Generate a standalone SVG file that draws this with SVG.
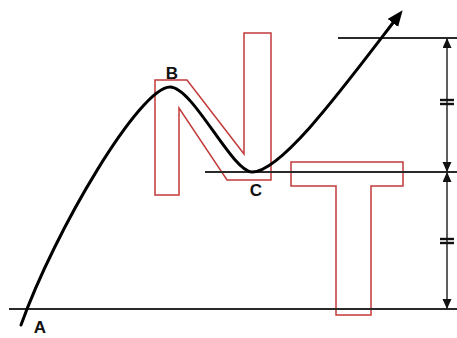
<svg xmlns="http://www.w3.org/2000/svg" width="457" height="338" viewBox="0 0 457 338">
  <style>
    .red { fill: none; stroke: #c23b3b; stroke-width: 1.5; stroke-linejoin: miter; }
    .hline { stroke: #2a2a2a; stroke-width: 1.8; fill: none; }
    .dim { stroke: #2a2a2a; stroke-width: 1.5; fill: none; }
    .eq { stroke: #111; stroke-width: 2.4; }
    .lbl { font-family: "Liberation Sans", Arial, sans-serif; font-weight: bold; font-size: 17px; fill: #111; text-anchor: middle; }
    .curve { fill: none; stroke: #000; stroke-width: 3; stroke-linecap: round; }
  </style>
  <defs>
    <marker id="bigArrow" markerUnits="userSpaceOnUse" markerWidth="17" markerHeight="14" refX="10" refY="6.5" orient="auto">
      <path d="M0,0 L16,6.5 L0,13 z" fill="#000"/>
    </marker>
    <marker id="dimArrow" markerUnits="userSpaceOnUse" markerWidth="12" markerHeight="10" refX="10" refY="4.5" orient="auto-start-reverse">
      <path d="M0,0 L10,4.5 L0,9 z" fill="#111"/>
    </marker>
  </defs>
  <rect width="457" height="338" fill="#fff"/>

  <g id="letter-N">
    <polygon class="red" points="155,80 187,80 244,154 244,33 271,33 271,180 227,180 179,108 179,195 155,195"/>
  </g>
  <g id="letter-T">
    <polygon class="red" points="291,162 403,162 403,186 371,186 371,315 336,315 336,186 291,186"/>
  </g>

  <g id="connectors">
    <line class="hline" x1="9" y1="309" x2="457" y2="309"/>
    <line class="hline" x1="205" y1="172" x2="457" y2="172"/>
    <line class="hline" x1="338" y1="38" x2="457" y2="38"/>
    <line class="dim" x1="447" y1="38" x2="447" y2="172" marker-start="url(#dimArrow)" marker-end="url(#dimArrow)"/>
    <line class="dim" x1="447" y1="172" x2="447" y2="309" marker-start="url(#dimArrow)" marker-end="url(#dimArrow)"/>
    <line class="eq" x1="440" y1="100" x2="454" y2="100"/>
    <line class="eq" x1="440" y1="104" x2="454" y2="104"/>
    <line class="eq" x1="440" y1="239" x2="454" y2="239"/>
    <line class="eq" x1="440" y1="243" x2="454" y2="243"/>
    <path id="curve" class="curve" d="M21,325 C55,230 140,87 170,87 C193,87 232,172 252,172 C282,172 346,84 399,15" marker-end="url(#bigArrow)"/>
  </g>

  <g id="labels">
    <text class="lbl" x="40" y="333">A</text>
    <text class="lbl" x="172" y="79">B</text>
    <text class="lbl" x="256" y="196">C</text>
  </g>
</svg>
